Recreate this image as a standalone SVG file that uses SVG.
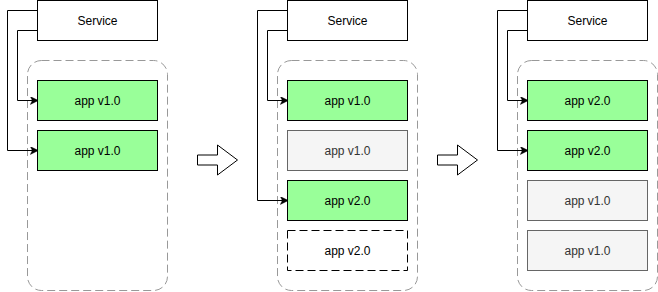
<svg xmlns="http://www.w3.org/2000/svg" width="658" height="292" viewBox="0 0 658 292">
<defs>
<style>
.svc{fill:#ffffff;stroke:#000000;stroke-width:1}
.cont{fill:none;stroke:#999999;stroke-width:1;stroke-dasharray:8 4}
.green{fill:#99ff99;stroke:#000000;stroke-width:1}
.gray{fill:#f5f5f5;stroke:#666666;stroke-width:1}
.dash{fill:#ffffff;stroke:#000000;stroke-width:1;stroke-dasharray:8 4}
.t{font-family:"Liberation Sans",Arial,Helvetica,sans-serif;font-size:12px;text-anchor:middle;fill:#000000}
.tg{fill:#333333}
.edge{fill:none;stroke:#000000;stroke-width:1}
.big{fill:#ffffff;stroke:#000000;stroke-width:1}
</style>
<marker id="ah" viewBox="0 0 10 10" refX="9" refY="5" markerWidth="8" markerHeight="8" markerUnits="userSpaceOnUse" orient="auto">
<path d="M0,0 L10,5 L0,10 L2.5,5 Z" fill="#000000" stroke="#000000" stroke-width="0.5"/>
</marker>
</defs>

<!-- Panel 1 -->
<g id="container1"><rect class="cont" x="27.5" y="60.5" width="140" height="230" rx="14" ry="14"/></g>
<g id="service1"><rect class="svc" x="37.5" y="0.5" width="120" height="40"/><text class="t" x="97.5" y="24.5">Service</text></g>
<g id="p1app1"><rect class="green" x="37.5" y="80.5" width="120" height="40"/><text class="t" x="97.5" y="104.5">app v1.0</text></g>
<g id="p1app2"><rect class="green" x="37.5" y="130.5" width="120" height="40"/><text class="t" x="97.5" y="154.5">app v1.0</text></g>

<!-- Panel 2 -->
<g id="container2"><rect class="cont" x="277.5" y="60.5" width="140" height="230" rx="14" ry="14"/></g>
<g id="service2"><rect class="svc" x="287.5" y="0.5" width="120" height="40"/><text class="t" x="347.5" y="24.5">Service</text></g>
<g id="p2app1"><rect class="green" x="287.5" y="80.5" width="120" height="40"/><text class="t" x="347.5" y="104.5">app v1.0</text></g>
<g id="p2app2"><rect class="gray" x="287.5" y="130.5" width="120" height="40"/><text class="t tg" x="347.5" y="154.5">app v1.0</text></g>
<g id="p2app3"><rect class="green" x="287.5" y="180.5" width="120" height="40"/><text class="t" x="347.5" y="204.5">app v2.0</text></g>
<g id="p2app4"><rect class="dash" x="287.5" y="230.5" width="120" height="40"/><text class="t" x="347.5" y="254.5">app v2.0</text></g>

<!-- Panel 3 -->
<g id="container3"><rect class="cont" x="517.5" y="60.5" width="140" height="230" rx="14" ry="14"/></g>
<g id="service3"><rect class="svc" x="527.5" y="0.5" width="120" height="40"/><text class="t" x="587.5" y="24.5">Service</text></g>
<g id="p3app1"><rect class="green" x="527.5" y="80.5" width="120" height="40"/><text class="t" x="587.5" y="104.5">app v2.0</text></g>
<g id="p3app2"><rect class="green" x="527.5" y="130.5" width="120" height="40"/><text class="t" x="587.5" y="154.5">app v2.0</text></g>
<g id="p3app3"><rect class="gray" x="527.5" y="180.5" width="120" height="40"/><text class="t tg" x="587.5" y="204.5">app v1.0</text></g>
<g id="p3app4"><rect class="gray" x="527.5" y="230.5" width="120" height="40"/><text class="t tg" x="587.5" y="254.5">app v1.0</text></g>

<!-- Transition arrows -->
<g id="step1"><path class="big" d="M197.5,155 L217.5,155 L217.5,145 L237.5,160 L217.5,175 L217.5,165 L197.5,165 Z"/></g>
<g id="step2"><path class="big" d="M437.5,155 L457.5,155 L457.5,145 L477.5,160 L457.5,175 L457.5,165 L437.5,165 Z"/></g>

<!-- Connectors -->
<g id="connectors">
<path class="edge" marker-end="url(#ah)" d="M37.5,10.5 L7.5,10.5 L7.5,150.5 L37.5,150.5"/>
<path class="edge" marker-end="url(#ah)" d="M37.5,30.5 L17.5,30.5 L17.5,100.5 L37.5,100.5"/>
<path class="edge" marker-end="url(#ah)" d="M287.5,10.5 L257.5,10.5 L257.5,200.5 L287.5,200.5"/>
<path class="edge" marker-end="url(#ah)" d="M287.5,30.5 L267.5,30.5 L267.5,100.5 L287.5,100.5"/>
<path class="edge" marker-end="url(#ah)" d="M527.5,10.5 L497.5,10.5 L497.5,150.5 L527.5,150.5"/>
<path class="edge" marker-end="url(#ah)" d="M527.5,30.5 L507.5,30.5 L507.5,100.5 L527.5,100.5"/>
</g>
</svg>
